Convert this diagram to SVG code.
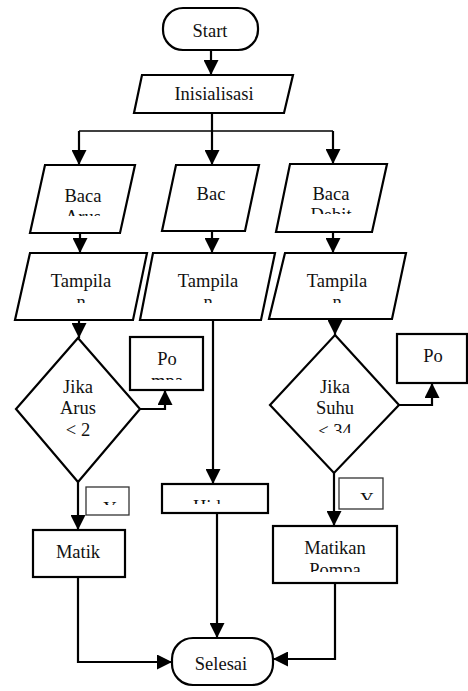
<svg xmlns="http://www.w3.org/2000/svg" width="468" height="691" viewBox="0 0 468 691">
<style>
.s{fill:#fff;stroke:#000;stroke-width:2.2}
.t{fill:#fff;stroke:#333;stroke-width:1.3}
.c{fill:none;stroke:#000;stroke-width:2.2}
.cl{fill:none;stroke:#000;stroke-width:1.3}
text{font-family:'Liberation Serif','DejaVu Serif',serif;font-size:18.5px;fill:#111;text-anchor:middle}
</style>
<defs>
<marker id="ah" markerUnits="userSpaceOnUse" markerWidth="15" markerHeight="15" viewBox="0 0 15 15" refX="15" refY="7.5" orient="auto"><path d="M0,0 L15,7.5 L0,15 z" fill="#000"/></marker>
<clipPath id="cStart"><rect x="163" y="8" width="95" height="30"/></clipPath>
<clipPath id="cInit"><rect x="134" y="75" width="160" height="26"/></clipPath>
<clipPath id="cB1"><rect x="30" y="165" width="105" height="51"/></clipPath>
<clipPath id="cB3"><rect x="276" y="164" width="111" height="50"/></clipPath>
<clipPath id="cT"><rect x="0" y="253" width="468" height="50"/></clipPath>
<clipPath id="cPo1"><rect x="130" y="337" width="73" height="43"/></clipPath>
<clipPath id="cPo2"><rect x="397" y="334" width="71" height="40"/></clipPath>
<clipPath id="cD2"><rect x="270" y="335" width="130" height="98"/></clipPath>
<clipPath id="cY1"><rect x="86" y="487" width="43" height="18"/></clipPath>
<clipPath id="cY2"><rect x="339" y="478" width="44" height="22"/></clipPath>
<clipPath id="cH"><rect x="162" y="484" width="106" height="20"/></clipPath>
<clipPath id="cMP"><rect x="273" y="526" width="124" height="46"/></clipPath>
</defs>
<g id="connectors">
<path class="c" d="M211,50 V75" marker-end="url(#ah)"/>
<path class="c" d="M212,113 V131"/>
<path class="cl" d="M79,131 H333"/>
<path class="c" d="M79,131 V165" marker-end="url(#ah)"/>
<path class="c" d="M212,131 V165" marker-end="url(#ah)"/>
<path class="c" d="M333,131 V164" marker-end="url(#ah)"/>
<path class="c" d="M80,233 V253" marker-end="url(#ah)"/>
<path class="c" d="M212,231 V253" marker-end="url(#ah)"/>
<path class="c" d="M333,232 V253" marker-end="url(#ah)"/>
<path class="c" d="M79,320 V338" marker-end="url(#ah)"/>
<path class="c" d="M335,319 V335" marker-end="url(#ah)"/>
<path class="c" d="M140,409 H165 V390" marker-end="url(#ah)"/>
<path class="c" d="M399,405 H432 V383" marker-end="url(#ah)"/>
<path class="c" d="M213,320 V484" marker-end="url(#ah)"/>
<path class="c" d="M78,482 V530" marker-end="url(#ah)"/>
<path class="c" d="M334,473 V526" marker-end="url(#ah)"/>
<path class="c" d="M217,513 V638" marker-end="url(#ah)"/>
<path class="c" d="M78,577 V662 H172" marker-end="url(#ah)"/>
<path class="c" d="M335,583 V659 H273" marker-end="url(#ah)"/>
</g>
<g id="start"><rect class="s" x="163" y="8" width="95" height="42" rx="20"/><text x="210" y="37" clip-path="url(#cStart)">Start</text></g>
<g id="inisialisasi"><path class="s" d="M142,75 H293 L284,113 H134 Z"/><text x="214" y="100" clip-path="url(#cInit)">Inisialisasi</text></g>
<g id="baca-arus"><path class="s" d="M45,165 H135 L120,233 H30 Z"/><g clip-path="url(#cB1)"><text x="83" y="202">Baca</text><text x="83" y="223">Arus</text></g></g>
<g id="baca-suhu"><path class="s" d="M176,165 H259 L245,231 H162 Z"/><text x="211" y="200">Bac</text></g>
<g id="baca-debit"><path class="s" d="M290,164 H387 L372,232 H276 Z"/><g clip-path="url(#cB3)"><text x="331" y="200">Baca</text><text x="331" y="221">Debit</text></g></g>
<g id="tampil-1"><path class="s" d="M30,253 H147 L133,320 H15 Z"/><g clip-path="url(#cT)"><text x="81" y="287">Tampila</text><text x="81" y="308">n</text></g></g>
<g id="tampil-2"><path class="s" d="M153,253 H275 L261,320 H140 Z"/><g clip-path="url(#cT)"><text x="208" y="287">Tampila</text><text x="208" y="308">n</text></g></g>
<g id="tampil-3"><path class="s" d="M285,253 H406 L392,319 H269 Z"/><g clip-path="url(#cT)"><text x="337" y="287">Tampila</text><text x="337" y="308">n</text></g></g>
<g id="jika-arus"><path class="s" d="M78,338 L140,409 L78,482 L16,409 Z"/><text x="78" y="393">Jika</text><text x="78" y="414">Arus</text><text x="78" y="436">&lt; 2</text></g>
<g id="jika-suhu"><path class="s" d="M335,335 L399,405 L334,473 L270,405 Z"/><g clip-path="url(#cD2)"><text x="335" y="393">Jika</text><text x="335" y="414">Suhu</text><text x="335" y="437">&lt; 34</text></g></g>
<g id="pompa-1"><rect class="s" x="130" y="337" width="73" height="53"/><g clip-path="url(#cPo1)"><text x="167" y="365">Po</text><text x="167" y="387">mpa</text></g></g>
<g id="pompa-2"><rect class="s" x="397" y="334" width="70" height="49"/><g clip-path="url(#cPo2)"><text x="433" y="362">Po</text><text x="433" y="386">mpa</text></g></g>
<g id="y-1"><rect class="t" x="86" y="487" width="43" height="28"/><text x="110" y="515" clip-path="url(#cY1)">Y</text></g>
<g id="y-2"><rect class="t" x="339" y="478" width="44" height="31"/><text x="367" y="506" clip-path="url(#cY2)">Y</text></g>
<g id="hidup"><rect class="s" x="162" y="484" width="106" height="29"/><text x="193" y="513" style="text-anchor:start" clip-path="url(#cH)">Hidup</text></g>
<g id="matik"><rect class="s" x="33" y="530" width="92" height="47"/><text x="78" y="558">Matik</text></g>
<g id="matikan-pompa"><rect class="s" x="273" y="526" width="124" height="57"/><g clip-path="url(#cMP)"><text x="335" y="554">Matikan</text><text x="335" y="576">Pompa</text></g></g>
<g id="selesai"><rect class="s" x="172" y="638" width="101" height="47" rx="21"/><text x="221" y="670">Selesai</text></g>
</svg>
